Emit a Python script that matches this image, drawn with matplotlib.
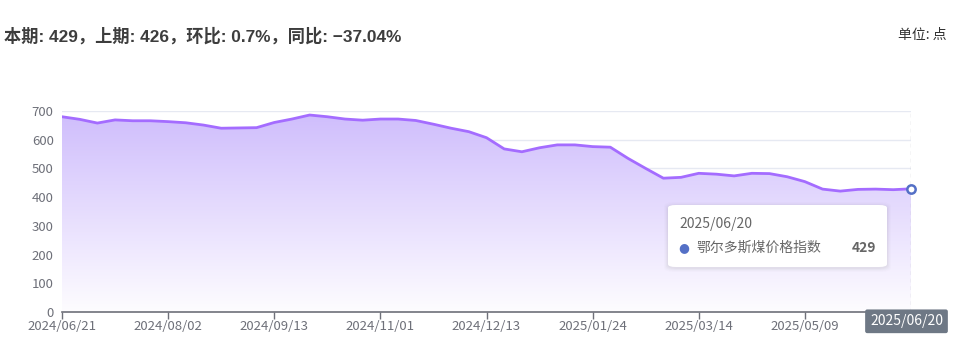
import numpy as np
import pandas as pd
import matplotlib
matplotlib.use('Agg')
import matplotlib.pyplot as plt
import matplotlib.transforms as mtransforms
from matplotlib.patches import FancyBboxPatch, Polygon

#font setup
plt.rcParams['font.family'] = ['Noto Sans CJK SC', 'DejaVu Sans']

#data
all_fridays = pd.date_range('2024-06-21', '2025-06-20', freq='7D')
skipped = pd.to_datetime(['2024-10-04', '2025-01-31', '2025-04-04', '2025-05-02'])
dates = [d.strftime('%Y/%m/%d') for d in all_fridays if d not in skipped]
values = [680, 671, 658, 669, 666, 666, 663, 659, 651, 640,
          641, 642, 660, 672, 686, 680, 672, 668, 672, 672,
          667, 654, 640, 628, 607, 568, 558, 572, 582, 582,
          576, 574, 535, 500, 466, 469, 483, 480, 474, 483,
          482, 471, 454, 428, 421, 427, 428, 426, 429]
series_name = '鄂尔多斯煤价格指数'
y_ticks = [0, 100, 200, 300, 400, 500, 600, 700]
title_text = '本期: 429，上期: 426，环比: 0.7%，同比: −37.04%'
unit_text = '单位: 点'

W, H = 962, 353
fig = plt.figure(figsize=(W / 100, H / 100), dpi=100)
ax = fig.add_axes([62 / W, (H - 312) / H, (911 - 62) / W, (312 - 111) / H])

x = np.arange(len(values))
line_color = '#a46cff'

#gradient fill under the line
ax.set_xlim(0, len(values) - 1)
ax.set_ylim(0, 700)
grad = np.linspace(0, 1, 256).reshape(-1, 1)
top = np.array([0.81, 0.74, 0.99])
bottom = np.array([0.995, 0.99, 1.0])
img = (top + (bottom - top) * (1 - grad))[::-1]
im = ax.imshow(img.reshape(256, 1, 3), extent=[0, len(values) - 1, 0, 700],
               aspect='auto', origin='upper', zorder=1)
verts = [(0, 0)] + list(zip(x, values)) + [(len(values) - 1, 0)]
clip = Polygon(verts, closed=True, transform=ax.transData, facecolor='none', edgecolor='none')
ax.add_patch(clip)
im.set_clip_path(clip)

#line and end marker
ax.plot(x, values, color=line_color, lw=2, zorder=3, solid_joinstyle='round')
ax.plot(x[-1], values[-1], 'o', ms=6, mfc='white', mec='#5470c6', mew=1.8, zorder=5, clip_on=False)
ax.axvline(x[-1], color='#b0b4bd', lw=0.9, ls=(0, (3, 3)), zorder=4)

#axes styling
ax.set_yticks(y_ticks)
ax.grid(axis='y', color='#e6e9f2', lw=1, zorder=0)
ax.set_axisbelow(True)
for s in ['top', 'right', 'left']:
    ax.spines[s].set_visible(False)
ax.spines['bottom'].set_color('#6e7079')
ax.spines['bottom'].set_linewidth(1.2)
tick_pos = list(range(0, len(values), 6))
ax.set_xticks(tick_pos)
ax.set_xticklabels([dates[i] if i != len(values) - 1 else '' for i in tick_pos])
ax.tick_params(axis='x', colors='#6e7079', labelcolor='#6e7079', length=5, width=1, labelsize=9.5, pad=1)
ax.tick_params(axis='y', length=0, labelcolor='#6e7079', labelsize=9.5, pad=6)

#highlighted x label, nudged left like the reference
shift = mtransforms.offset_copy(ax.transData, fig=fig, x=-4.5, y=0, units='dots')
ax.text(x[-1], -8, dates[-1], transform=shift,
        ha='center', va='top', color='white', fontsize=10, zorder=6, clip_on=False,
        bbox=dict(boxstyle='round,pad=0.35,rounding_size=0.15', fc='#6e7885', ec='none'))

#title and unit
fig.text(4 / W, 1 - 36 / H, title_text, fontsize=12.4, fontweight='bold', color='#3d3d3d',
         va='center', ha='left', family=['Liberation Sans', 'Noto Sans CJK SC'])
fig.text(947 / W, 1 - 35 / H, unit_text, fontsize=10, color='#333333', va='center', ha='right')

#tooltip
tx0, ty0, tw, th = 668, 205, 219, 62
for i, a in enumerate([0.015, 0.02, 0.03, 0.04]):
    sh = FancyBboxPatch(((tx0 - 4 + i) / W, 1 - (ty0 + th + 5 - i) / H), (tw + 8 - 2 * i) / W, (th + 8 - 2 * i) / H,
                        boxstyle='round,pad=0,rounding_size=0.012', transform=fig.transFigure,
                        fc='#555555', ec='none', alpha=a, zorder=7)
    fig.add_artist(sh)
box = FancyBboxPatch((tx0 / W, 1 - (ty0 + th) / H), tw / W, th / H,
                     boxstyle='round,pad=0,rounding_size=0.008', transform=fig.transFigure,
                     fc='white', ec='none', zorder=8)
fig.add_artist(box)
fig.text(679 / W, 1 - 224 / H, dates[-1], fontsize=10, color='#666666', va='center', ha='left', zorder=9)
fig.text(684 / W, 1 - 248 / H, '●', fontsize=9, color='#5470c6', va='center', ha='center', zorder=9,
         family=['DejaVu Sans'])
fig.text(696 / W, 1 - 248 / H, series_name, fontsize=10, color='#666666', va='center', ha='left', zorder=9)
fig.text(876 / W, 1 - 248 / H, str(values[-1]), fontsize=10, fontweight='bold', color='#666666',
         va='center', ha='right', zorder=9)

fig.savefig('out.png', dpi=100)
